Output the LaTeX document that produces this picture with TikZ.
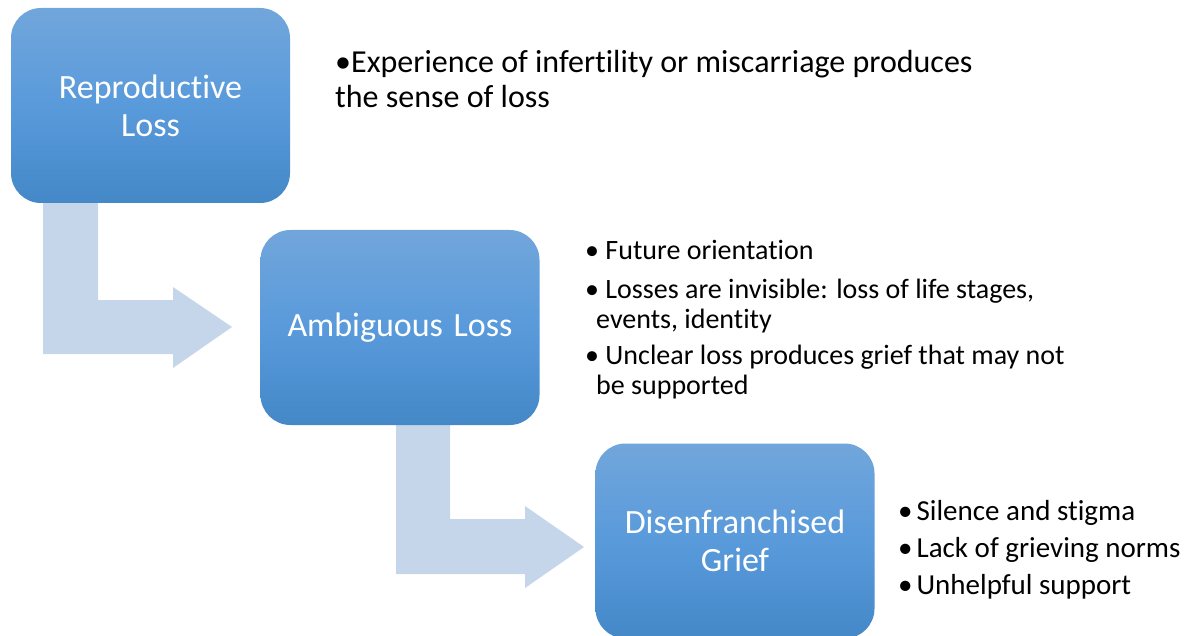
\documentclass[tikz,border=0pt]{standalone}
\usepackage{fontspec}
\setmainfont{Carlito}[Ligatures=NoCommon]
\definecolor{boxtop}{RGB}{113,166,219}
\definecolor{boxmid}{RGB}{89,154,219}
\definecolor{boxbot}{RGB}{68,136,200}
\definecolor{arrowfill}{RGB}{197,213,234}
\begin{document}
\begin{tikzpicture}[x=1pt,y=-1pt,
  stage/.style={rounded corners=30pt, minimum width=279pt, minimum height=195pt,
    inner sep=0pt, top color=boxtop, bottom color=boxbot, middle color=boxmid,
    text=white, font=\fontsize{34}{38}\selectfont, align=center},
  blockarrow/.style={fill=arrowfill, draw=none},
  bullettext/.style={anchor=base west, inner sep=0pt, text=black,
    font=\fontsize{28}{30}\selectfont},
  toptext/.style={bullettext, font=\fontsize{32}{35}\selectfont},
  sidetext/.style={bullettext, font=\fontsize{29}{30}\selectfont}]
\useasboundingbox (0,0) rectangle (1190,636);
% block arrows (behind the boxes)
\fill[blockarrow] (43,190) -- (98,190) -- (98,300) -- (173,300) -- (173,287)
  -- (232,327) -- (173,368) -- (173,354) -- (43,354) -- cycle;
\fill[blockarrow] (396,410) -- (450,410) -- (450,519) -- (525,519) -- (525,506)
  -- (584,547) -- (525,588) -- (525,574) -- (396,574) -- cycle;
% stage boxes
\node[stage] (b1) at (150.5,105.5) {Reproductive\\Loss};
\node[stage] (b2) at (400,327.5) {Ambiguous\hspace{3pt} Loss};
\node[stage] (b3) at (735,541) {Disenfranchised\\Grief};
% texts
\node[toptext] (t1a) at (335,73) {•Experience of infertility or miscarriage produces};
\node[toptext] (t1b) at (335,108) {the sense of loss};
\node[bullettext] (t2a) at (585,259) {• Future orientation};
\node[bullettext] (t2b) at (585,298) {• Losses are invisible: loss of life stages,};
\node[bullettext] (t2c) at (596,328) {events, identity};
\node[bullettext] (t2d) at (585,364) {• Unclear loss produces grief that may not};
\node[bullettext] (t2e) at (596,394) {be supported};
\node[sidetext] (t3a) at (898,520) {•\hspace{4pt}Silence and stigma};
\node[sidetext] (t3b) at (898,557) {•\hspace{4pt}Lack of grieving norms};
\node[sidetext] (t3c) at (898,594) {•\hspace{4pt}Unhelpful support};
\end{tikzpicture}
\end{document}
